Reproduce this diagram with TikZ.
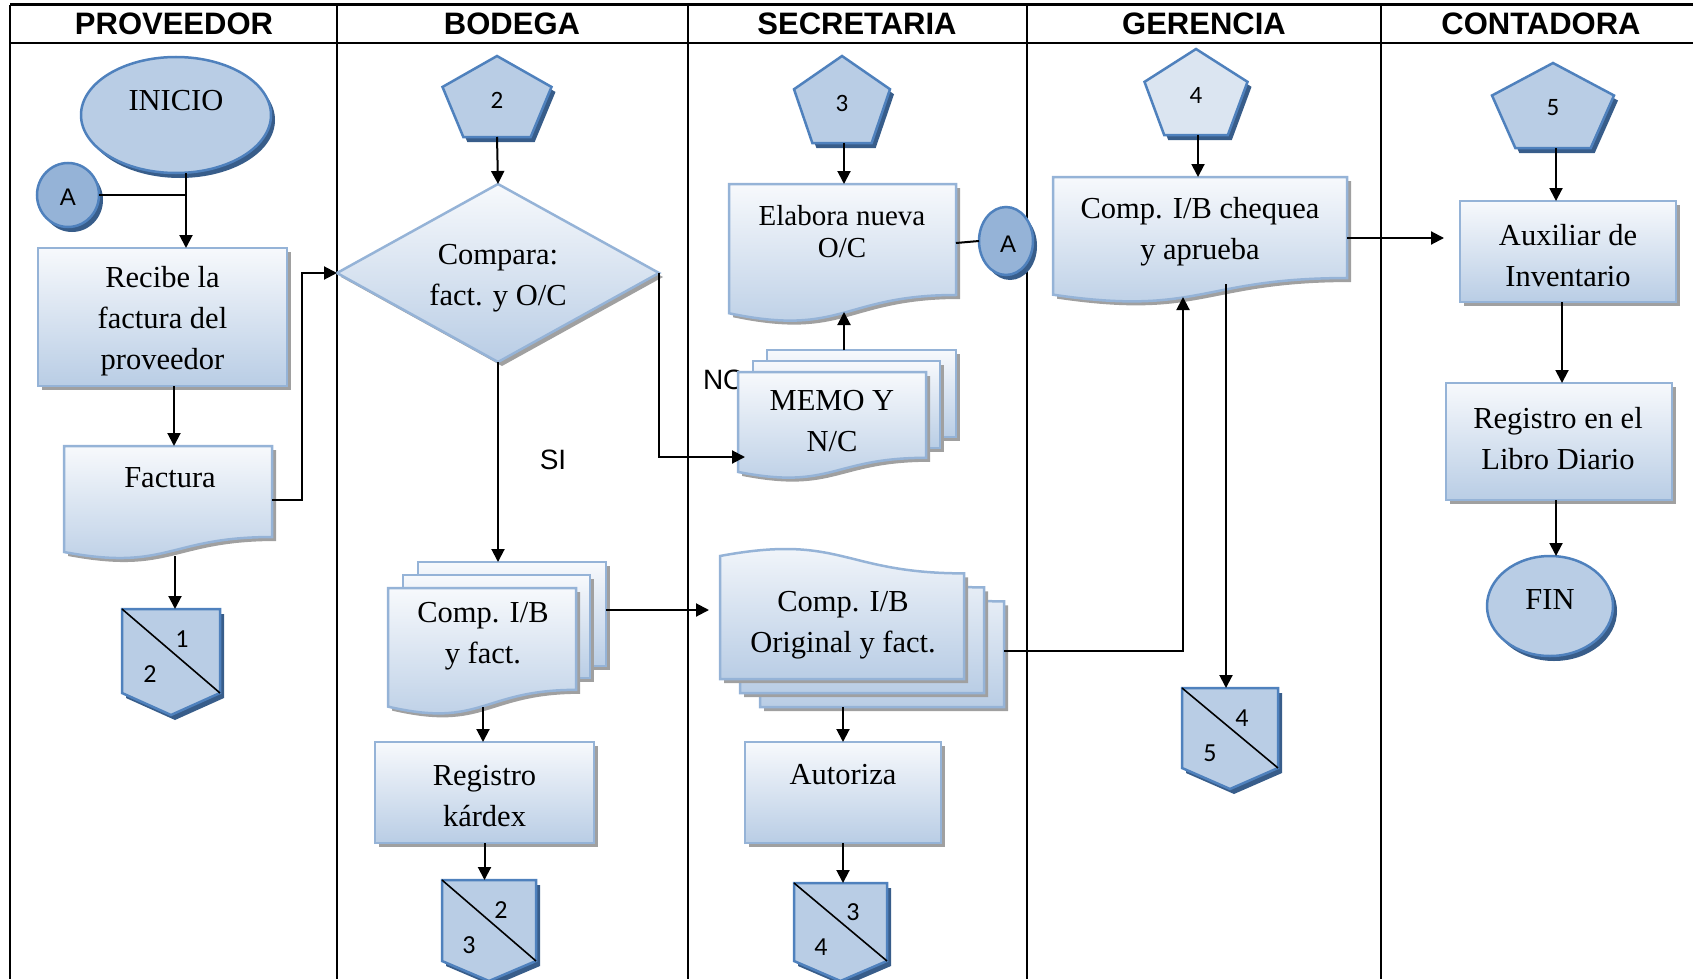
\documentclass[tikz,border=0pt]{standalone}
\usepackage{fontspec}
\setmainfont{Liberation Serif}
\newfontfamily\hdrfont{Liberation Sans}
\newfontfamily\numfont{Carlito}
\usetikzlibrary{shapes.geometric,shadows,arrows.meta}

\definecolor{gradtop}{HTML}{F7F9FC}
\definecolor{gradbot}{HTML}{B9CDE5}
\definecolor{edgeblue}{HTML}{95B3D7}
\definecolor{fillblue}{HTML}{B9CDE5}
\definecolor{paleblue}{HTML}{DBE5F1}
\definecolor{dotblue}{HTML}{95B3D7}
\definecolor{outblue}{HTML}{4F81BD}
\definecolor{deepblue}{HTML}{385D8A}
\definecolor{shadegray}{HTML}{A0A0A0}

\tikzset{
  grid line/.style={line width=2pt, black},
  txt/.style={align=center, inner sep=0pt, font=\fontsize{30.5}{41}\selectfont},
  hdr/.style={inner sep=0pt, font=\hdrfont\bfseries\fontsize{31}{33}\selectfont},
  lbl/.style={inner sep=0pt, font=\hdrfont\fontsize{28}{30}\selectfont},
  num/.style={inner sep=0pt, font=\numfont\fontsize{25}{27}\selectfont},
  bignum/.style={inner sep=0pt, font=\numfont\fontsize{26}{28}\selectfont},
  letter/.style={inner sep=0pt, font=\hdrfont\fontsize{24}{26}\selectfont},
  grayshadow/.style={drop shadow={shadow xshift=4pt, shadow yshift=-4pt, fill=shadegray, opacity=1}},
  blueshadow/.style={drop shadow={shadow xshift=4pt, shadow yshift=-5pt, fill=deepblue, opacity=1}},
  procface/.style={top color=gradtop, bottom color=gradbot, draw=edgeblue, line width=2.5pt, grayshadow},
  procbox/.style={rectangle, inner sep=0pt, outer sep=0pt, procface},
  blueface/.style={fill=fillblue, draw=outblue, line width=2.5pt, blueshadow},
  terminal/.style={ellipse, inner sep=0pt, outer sep=0pt, blueface},
  conn/.style={ellipse, inner sep=0pt, outer sep=0pt, fill=dotblue, draw=outblue, line width=2.5pt, blueshadow},
  flow/.style={line width=2pt, black},
  arr/.style={flow, -{Triangle[length=13pt,width=13pt]}},
}

% document symbol: left x, top y, width, full height
\newcommand\DocShape[4]{%
  \path[procface] (#1,#2) -- ({#1+#3},#2) -- ({#1+#3},{#2+0.802*#4})
    .. controls ({#1+#3/2},{#2+0.802*#4}) and ({#1+#3/2},{#2+1.107*#4}) .. (#1,{#2+0.934*#4}) -- cycle;}
% document symbol with the wave on top: left x, bottom y, width, full height
\newcommand\DocFlip[4]{%
  \path[procface] (#1,#2) -- ({#1+#3},#2) -- ({#1+#3},{#2-0.802*#4})
    .. controls ({#1+#3/2},{#2-0.802*#4}) and ({#1+#3/2},{#2-1.107*#4}) .. (#1,{#2-0.934*#4}) -- cycle;}
% pentagon: fill, centre x, top y, width, height
\newcommand\Penta[5]{%
  \path[fill=#1, draw=outblue, line width=2.5pt, blueshadow] (#2,#3) -- ({#2+#4/2},{#3+0.382*#5})
    -- ({#2+0.309*#4},{#3+#5}) -- ({#2-0.309*#4},{#3+#5}) -- ({#2-#4/2},{#3+0.382*#5}) -- cycle;}
% off-page connector: left x, top y, width, side height, point drop
\newcommand\OffPage[5]{%
  \path[blueface] (#1,#2) -- ({#1+#3},#2) -- ({#1+#3},{#2+#4}) -- ({#1+#3/2},{#2+#4+#5}) -- (#1,{#2+#4}) -- cycle;
  \draw[line width=1.6pt] (#1,#2) -- ({#1+#3},{#2+#4});}

\begin{document}
\begin{tikzpicture}[x=1pt, y=-1pt]
\useasboundingbox (0,0) rectangle (1693,979);

% swimlane table
\draw[line width=3pt] (10,5) -- (1693,5);
\draw[line width=2.5pt] (10,43) -- (1693,43);
\foreach \x in {10,337,688,1027,1381} \draw[grid line] (\x,5) -- (\x,979);
\node[hdr] (hProv) at (174,24) {PROVEEDOR};
\node[hdr] (hBod) at (512,24) {BODEGA};
\node[hdr] (hSec) at (857,24) {SECRETARIA};
\node[hdr] (hGer) at (1204,24) {GERENCIA};
\node[hdr] (hCon) at (1541,24) {CONTADORA};

% ---------- PROVEEDOR ----------
\node[terminal, minimum width=190pt, minimum height=116pt] (inicio) at (176,115) {};
\node[conn, minimum width=62pt, minimum height=64pt] (aIn) at (68,195) {};
\node[procbox, minimum width=249pt, minimum height=138pt] (recibe) at (162.5,317) {};
\DocShape{64}{446}{208}{113.5}
\OffPage{122}{609}{98}{84}{22}
\coordinate (joinA) at (186,195);
\coordinate (facTop) at (174,446);
\coordinate (facR) at (272,500);
\coordinate (facB) at (175,556);
\coordinate (op1) at (171,609);

% ---------- BODEGA ----------
\Penta{fillblue}{497}{56}{109}{81}
\coordinate (p2b) at (497,137);
\node[diamond, procface, minimum width=322pt, minimum height=178pt, inner sep=0pt, outer sep=0pt] (cmp) at (498,273) {};
\node[lbl] (noT) at (724,380) {NO};
\node[lbl] (siT) at (553,460) {SI};
\path[procface] (418,562) rectangle (606,666);
\path[procface] (403,575) rectangle (590,678);
\DocShape{388}{588}{188}{127}
\coordinate (stkTop) at (498,562);
\coordinate (stkR) at (606,610);
\coordinate (stkB) at (483,707);
\node[procbox, minimum width=219pt, minimum height=101pt] (kardex) at (484.5,792.5) {};
\OffPage{442}{880}{94}{81}{20}
\coordinate (op2) at (489,880);

% ---------- SECRETARIA ----------
\Penta{fillblue}{842}{56}{96}{87}
\coordinate (p3b) at (844,143);
\DocShape{729}{184}{227}{138.4}
\coordinate (elabTop) at (844,184);
\coordinate (elabR) at (956,243);
\coordinate (elabB) at (844,312);
\node[conn, minimum width=54pt, minimum height=68pt] (aOut) at (1006,241) {};
\path[procface] (767,350) rectangle (956,437);
\path[procface] (753,361) rectangle (940,448);
\DocShape{738}{372}{188}{107}
\coordinate (memoTop) at (844,350);
\coordinate (memoIn) at (745,457);
\DocFlip{760}{707}{244}{131.7}
\DocFlip{740}{693}{244}{131.7}
\DocFlip{720}{679}{244}{131.7}
\coordinate (origL) at (709,610);
\coordinate (origR) at (1004,651);
\coordinate (origB) at (843,707);
\node[procbox, minimum width=196pt, minimum height=101pt] (autoriza) at (843,792.5) {};
\OffPage{794}{883}{93}{78}{20}
\coordinate (op3) at (840,883);

% ---------- GERENCIA ----------
\Penta{paleblue}{1196}{49}{103}{86}
\coordinate (p4b) at (1198,135);
\DocShape{1053}{177}{294}{126}
\coordinate (cheqTop) at (1198,177);
\coordinate (cheqIn) at (1183,297);
\coordinate (cheqOut) at (1226,284);
\coordinate (cheqR) at (1347,238);
\OffPage{1182}{688}{96}{80}{21}
\coordinate (op4) at (1226,688);

% ---------- CONTADORA ----------
\Penta{fillblue}{1553}{63}{122}{85}
\coordinate (p5b) at (1556,148);
\node[procbox, minimum width=216pt, minimum height=101pt] (aux) at (1568,251.5) {};
\coordinate (auxIn) at (1444,238);
\coordinate (auxB) at (1562,302);
\node[procbox, minimum width=226pt, minimum height=117pt] (libro) at (1559,441.5) {};
\coordinate (libroB) at (1556,500);
\node[terminal, minimum width=126pt, minimum height=100pt] (fin) at (1550,606) {};

% ---------- connectors ----------
\draw[flow] (aIn.east) -- (joinA);
\draw[arr] (inicio.south -| joinA) -- (recibe.north -| joinA);
\draw[arr] (recibe.south -| facTop) -- (facTop);
\draw[arr] (facR) -- ++(30,0) |- (cmp.west);
\draw[arr] (facB) -- (facB |- op1);
\draw[arr] (p2b) -- (cmp.north);
\draw[arr] (cmp.south) -- (stkTop);
\draw[arr] (cmp.east) |- (memoIn);
\draw[arr] (stkR) -- (origL);
\draw[arr] (stkB) -- (stkB |- kardex.north);
\draw[arr] (kardex.south) -- (kardex.south |- op2);
\draw[arr] (p3b) -- (elabTop);
\draw[flow] (elabR) -- (aOut.west);
\draw[arr] (memoTop) -- (elabB);
\draw[arr] (origB) -- (autoriza.north);
\draw[arr] (autoriza.south) -- (autoriza.south |- op3);
\draw[arr] (origR) -| (cheqIn);
\draw[arr] (p4b) -- (cheqTop);
\draw[arr] (cheqOut) -- (op4);
\draw[arr] (cheqR) -- (auxIn);
\draw[arr] (p5b) -- (p5b |- aux.north);
\draw[arr] (auxB) -- (auxB |- libro.north);
\draw[arr] (libroB) -- (libroB |- fin.north);

% ---------- texts ----------
\node[txt] (inicioT) at (176,101) {INICIO};
\node[letter] (aInT) at (68,197) {A};
\node[txt] (recibeT) at (162.5,321) {Recibe la\\factura del\\proveedor};
\node[txt] (facturaT) at (170,478) {Factura};
\node[bignum] (op1a) at (182,639) {1};
\node[bignum] (op1b) at (150,674) {2};
\node[num] (p2T) at (497,100) {2};
\node[txt] (cmpT) at (498,278) {Compara:\\fact. y O/C};
\node[txt] (compT) at (483,636) {Comp. I/B\\y fact.};
\node[txt] (kardexT) at (484.5,796) {Registro\\kárdex};
\node[bignum] (op2a) at (501,910) {2};
\node[bignum] (op2b) at (469,945) {3};
\node[num] (p3T) at (842,103) {3};
\node[txt, font=\fontsize{29}{32}\selectfont] (elabT) at (842,232) {Elabora nueva\\O/C};
\node[letter] (aOutT) at (1008,244) {A};
\node[txt] (memoT) at (832,421) {MEMO Y\\N/C};
\node[txt] (origT) at (843,625) {Comp. I/B\\Original y fact.};
\node[txt] (autT) at (843,775) {Autoriza};
\node[bignum] (op3a) at (853,912) {3};
\node[bignum] (op3b) at (821,947) {4};
\node[num] (p4T) at (1196,95) {4};
\node[txt] (cheqT) at (1200,232) {Comp. I/B chequea\\y aprueba};
\node[bignum] (op4a) at (1242,718) {4};
\node[bignum] (op4b) at (1210,753) {5};
\node[num] (p5T) at (1553,108) {5};
\node[txt] (auxT) at (1568,256) {Auxiliar de\\Inventario};
\node[txt] (libroT) at (1558,439) {Registro en el\\Libro Diario};
\node[txt] (finT) at (1550,600) {FIN};
\end{tikzpicture}
\end{document}
